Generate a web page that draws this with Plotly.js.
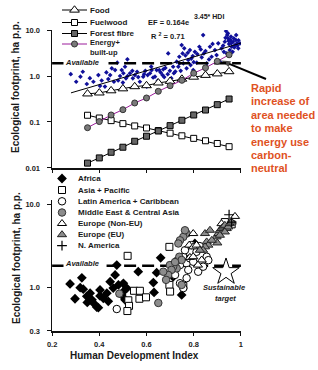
<!DOCTYPE html>
<html><head><meta charset="utf-8">
<script src="https://cdn.plot.ly/plotly-3.0.1.min.js"></script>
<style>html,body{margin:0;padding:0;background:#fff;}#chart{width:318px;height:370px;}</style>
</head><body><div id="chart"></div>
<script>
const FONT = 'Liberation Sans, Arial, sans-serif';

// ---------- Top panel data ----------
const hdiSteps = [0.35,0.40,0.45,0.50,0.55,0.60,0.65,0.70,0.75,0.80,0.85,0.90,0.95];
const food = [0.41,0.43,0.48,0.53,0.59,0.62,0.71,0.77,0.86,0.95,1.04,1.12,1.25];
const fuelwood = [0.14,0.122,0.107,0.092,0.082,0.074,0.065,0.057,0.050,0.044,0.039,0.034,0.029];
const forestFibre = [0.0127,0.0165,0.0219,0.0282,0.038,0.0489,0.0637,0.0832,0.109,0.142,0.182,0.238,0.316];
const energyBuiltUp = [0.075,0.102,0.142,0.185,0.259,0.333,0.465,0.615,0.807,1.15,1.51,2.09,2.9];

const countryHDI = [0.279,0.302,0.320,0.330,0.347,0.375,0.396,0.403,0.424,0.438,0.446,0.453,0.467,0.462,0.476,0.488,0.495,0.502,0.509,0.519,0.513,0.530,0.542,0.551,0.572,0.586,0.601,0.615,0.636,0.643,0.622,0.654,0.671,0.692,0.699,0.713,0.716,0.728,0.739,0.749,0.753,0.756,0.760,0.770,0.777,0.784,0.787,0.796,0.798,0.805,0.813,0.824,0.834,0.840,0.843,0.855,0.869,0.876,0.890,0.897,0.904,0.911,0.918,0.928,0.932,0.937,0.942,0.946,0.950,0.956,0.961,0.967,0.965,0.975,0.979,0.984,0.989,0.996,0.940,0.953,0.560,0.590,0.595,0.605,0.628,0.648,0.660,0.675,0.680,0.690,0.705,0.722,0.735,0.745,0.765,0.790,0.815,0.830,0.850,0.865,0.880,0.925,0.935,0.945,0.958,0.970,0.980,0.990,0.960,0.972,0.985,0.948,0.540,0.480,0.520,0.500,0.430,0.360,0.410,0.565,0.620,0.668,0.740,0.775,0.800];
const countryEF = [1.10,0.75,0.97,1.24,0.67,0.75,1.05,0.61,0.59,0.86,1.05,1.47,1.35,0.75,1.95,1.00,1.35,1.15,1.59,2.31,0.89,1.15,0.89,1.05,0.75,0.97,0.59,1.15,0.97,1.35,1.35,1.35,1.40,3.11,1.30,1.59,1.15,2.05,2.63,4.72,3.11,1.89,4.00,1.47,2.23,3.67,1.73,2.72,1.35,3.37,1.95,4.34,2.55,7.78,3.11,1.89,4.34,2.63,3.67,2.86,5.14,2.05,4.00,3.37,5.57,9.5,7.78,6.60,4.96,6.07,4.34,5.57,3.37,4.72,6.07,5.14,4.00,5.14,3.11,3.67,1.24,1.10,1.30,1.05,0.93,0.80,1.20,0.95,1.50,1.10,0.90,1.25,1.60,1.30,2.80,2.40,3.00,3.80,3.50,2.30,5.00,4.60,6.80,8.50,7.20,6.60,7.80,6.00,5.20,4.20,4.60,5.80,1.30,0.80,1.00,0.72,1.20,0.90,0.80,0.95,1.60,1.05,1.90,3.20,2.00];
const trendHDI = [0.28, 1.0];
const trendEF = [0.43, 5.2];
const availableTop = 1.9;

// ---------- Bottom panel data ----------
const africaHDI = [0.276,0.297,0.319,0.326,0.332,0.347,0.349,0.361,0.375,0.389,0.396,0.403,0.417,0.432,0.438,0.446,0.459,0.467,0.474,0.481,0.495,0.502,0.509,0.516,0.509,0.565,0.629,0.632,0.643,0.660,0.713,0.749,0.805,0.369,0.403];
const africaEF = [1.10,0.73,0.99,1.30,0.95,0.78,0.66,0.85,0.65,0.58,0.57,0.79,0.74,0.85,0.68,1.17,0.98,1.41,1.85,1.07,0.81,1.12,0.93,0.98,0.71,1.54,1.14,0.87,1.50,2.26,1.34,0.81,3.36,0.71,0.93];
const asiaHDI = [0.520,0.547,0.572,0.570,0.598,0.523,0.526,0.519,0.697,0.700,0.756,0.697,0.932,0.961];
const asiaEF = [2.39,0.91,0.91,0.73,0.76,0.70,0.60,0.52,1.07,0.89,1.04,3.06,6.07,5.70];
const latinHDI = [0.474,0.742,0.756,0.763,0.770,0.777,0.784,0.791,0.798,0.812,0.819,0.826,0.840,0.855,0.862,0.770,0.742,0.756,0.721,0.728];
const latinEF = [0.55,1.85,2.33,2.79,1.94,1.62,2.23,3.21,2.03,2.67,1.54,3.12,1.77,2.33,2.12,1.29,1.12,0.98,1.41,2.07];
const middleEastHDI = [0.770,0.756,0.742,0.735,0.763,0.739,0.749,0.728,0.713,0.699,0.706,0.692,0.671,0.485,0.650,0.749,0.683,0.721];
const middleEastEF = [4.42,4.03,3.67,3.36,4.84,2.33,2.13,1.69,1.77,1.85,1.62,1.41,1.54,0.84,0.65,1.07,1.23,2.01];
const europeNonEuHDI = [0.798,0.781,0.798,0.812,0.784,0.798,0.834,0.818,0.918,0.975];
const europeNonEuEF = [4.42,3.21,3.06,3.21,2.29,2.33,2.13,1.85,5.81,7.10];
const europeEuHDI = [0.848,0.869,0.855,0.862,0.848,0.840,0.897,0.904,0.911,0.918,0.925,0.932,0.940,0.946,0.932,0.911,0.900,0.953,0.961,0.877,0.826];
const europeEuEF = [4.42,4.84,3.51,3.21,3.06,2.79,4.03,4.42,4.84,5.07,5.30,5.55,5.07,5.30,4.62,4.22,3.41,5.81,6.07,3.67,2.79];
const nAmericaHDI = [0.950,0.961];
const nAmericaEF = [7.43,6.07];
const targetHDI = [0.937];
const targetEF = [1.53];
const availableBottom = 1.82;

// ---------- Labels ----------
const topLegendLabels = ['Food','Fuelwood','Forest fibre','Energy+<br>built-up'];
const bottomLegendLabels = ['Africa','Asia + Pacific','Latin America + Caribbean','Middle East &amp; Central Asia','Europe (Non-EU)','Europe (EU)','N. America'];
const xTickVals = [0.2,0.4,0.6,0.8,1.0];
const xTickText = ['0.2','0.4','0.6','0.8','1'];
const topYTickVals = [0.01,0.1,1,10];
const topYTickText = ['0.01','0.1','1.0','10.0'];
const bottomYTickVals = [0.3,1,10];
const bottomYTickText = ['0.3','1.0','10.0'];
const calloutLines = ['Rapid','increase of','area needed','to make','energy use','carbon-','neutral'];

// ---------- Styles ----------
const topStyles = [
  {y: food, symbol:'triangle-up', fill:'#ffffff', size:8.5, line:'#000', mline:'#000'},
  {y: fuelwood, symbol:'square', fill:'#ffffff', size:6, line:'#000', mline:'#000'},
  {y: forestFibre, symbol:'square', fill:'#666666', size:6, line:'#000', mline:'#000'},
  {y: energyBuiltUp, symbol:'circle', fill:'#7a7a7a', size:6, line:'#9b1c9b', mline:'#333'}
];
const groupStyles = [
  {x: africaHDI, y: africaEF, symbol:'diamond', fill:'#000', size:7.5, lw:0, lc:'#000'},
  {x: asiaHDI, y: asiaEF, symbol:'square', fill:'#fff', size:7, lw:1, lc:'#000'},
  {x: latinHDI, y: latinEF, symbol:'circle', fill:'#fff', size:7.5, lw:1, lc:'#000'},
  {x: middleEastHDI, y: middleEastEF, symbol:'circle', fill:'#8c8c8c', size:7.5, lw:1, lc:'#333'},
  {x: europeNonEuHDI, y: europeNonEuEF, symbol:'triangle-up', fill:'#fff', size:8, lw:1, lc:'#000'},
  {x: europeEuHDI, y: europeEuEF, symbol:'triangle-up', fill:'#8c8c8c', size:8, lw:1, lc:'#222'},
  {x: nAmericaHDI, y: nAmericaEF, symbol:'cross-thin', fill:'#000', size:7, lw:1.2, lc:'#000'}
];

const data = [];
// top panel
data.push({type:'scatter', mode:'markers', x: countryHDI, y: countryEF, xaxis:'x', yaxis:'y',
  marker:{symbol:'diamond', size:3.6, color:'#10109a'}, hoverinfo:'skip'});
data.push({type:'scatter', mode:'lines', x: trendHDI, y: trendEF, xaxis:'x', yaxis:'y',
  line:{color:'#000', width:1}, hoverinfo:'skip'});
data.push({type:'scatter', mode:'lines', x:[xTickVals[0], xTickVals[4]], y:[availableTop, availableTop], xaxis:'x', yaxis:'y',
  line:{color:'#000', width:2.5, dash:'12px,6px'}, hoverinfo:'skip'});
topStyles.forEach(s => data.push({type:'scatter', mode:'lines+markers', x: hdiSteps, y: s.y, xaxis:'x', yaxis:'y',
  line:{color:s.line, width:1}, marker:{symbol:s.symbol, size:s.size, color:s.fill, line:{color:s.mline, width:1}}, hoverinfo:'skip'}));

// bottom panel
data.push({type:'scatter', mode:'lines', x:[xTickVals[0], xTickVals[4]], y:[availableBottom, availableBottom], xaxis:'x2', yaxis:'y2',
  line:{color:'#000', width:2.5, dash:'12px,6px'}, hoverinfo:'skip'});
groupStyles.forEach(s => data.push({type:'scatter', mode:'markers', x: s.x, y: s.y, xaxis:'x2', yaxis:'y2',
  marker:{symbol:s.symbol, size:s.size, color:s.fill, line:{color:s.lc, width:s.lw}}, hoverinfo:'skip'}));
data.push({type:'scatter', mode:'markers', x: targetHDI, y: targetEF, xaxis:'x2', yaxis:'y2',
  marker:{symbol:'star', size:20, color:'#fff', line:{color:'#000', width:1}}, hoverinfo:'skip'});

// ---------- overlay (pixel space) for legends and callout arrow ----------
const topLegRows = [10, 22.5, 33.5, 44];
const topLegTextRows = [10, 22.5, 33.5, 47];
topStyles.forEach((s, i) => {
  data.push({type:'scatter', mode:'lines', x:[62, 87], y:[topLegRows[i], topLegRows[i]], xaxis:'x3', yaxis:'y3',
    line:{color:s.line, width:1}, hoverinfo:'skip'});
  data.push({type:'scatter', mode:'markers', x:[74.5], y:[topLegRows[i]], xaxis:'x3', yaxis:'y3',
    marker:{symbol:s.symbol, size:s.size, color:s.fill, line:{color:s.mline, width:1}}, hoverinfo:'skip'});
});
const botLegRows = [178.5, 190, 201.3, 212.5, 223.5, 234.7, 245.7];
groupStyles.forEach((s, i) => {
  data.push({type:'scatter', mode:'markers', x:[62], y:[botLegRows[i]], xaxis:'x3', yaxis:'y3',
    marker:{symbol:s.symbol, size:s.size, color:s.fill, line:{color:s.lc, width:s.lw}}, hoverinfo:'skip'});
});
// callout arrow (tail -> head)
data.push({type:'scatter', mode:'lines+markers', x:[266, 221], y:[79, 60.5], xaxis:'x3', yaxis:'y3',
  line:{color:'#000', width:2}, marker:{symbol:'arrow', angleref:'previous', size:[0, 10], color:'#000', line:{width:0}},
  hoverinfo:'skip'});

const ann = [];
function txt(x, y, text, size, opts) {
  ann.push(Object.assign({x:x, y:y, xref:'x3', yref:'y3', text:text, showarrow:false, xanchor:'left', yanchor:'middle',
    align:'left', font:{family:FONT, size:size, color:'#1a1a1a'}}, opts || {}));
}
topLegendLabels.forEach((t, i) => txt(88, topLegTextRows[i], '<b>' + t.replace('<br>', '</b><br><b>') + '</b>', i === 3 ? 7.5 : 8));
bottomLegendLabels.forEach((t, i) => txt(76, botLegRows[i], '<b>' + t + '</b>', 8));

txt(146, 22.5, '<b>EF = 0.164e</b>', 7.5);
txt(192, 16, '<b>3.45* HDI</b>', 7);
txt(149, 35.5, '<b>R <sup>2</sup> = 0.71</b>', 7.5);

txt(86, 62, '<b><i>Available</i></b>', 7.5, {xanchor:'center', bgcolor:'#fff', width:42});
txt(85, 263, '<b><i>Available</i></b>', 7.5, {xanchor:'center', bgcolor:'#fff', width:40});
txt(223.5, 287.3, '<b><i>Sustainable</i></b>', 7.5, {xanchor:'center'});
txt(225, 298.3, '<b><i>target</i></b>', 7.5, {xanchor:'center'});

calloutLines.forEach((t, i) => txt(249, 88 + i * 13.4, '<b>' + t + '</b>', 11, {font:{family:FONT, size:11, color:'#e0521f'}}));

txt(15, 87, '<b>Ecological footprint, ha p.p.</b>', 10, {xanchor:'center', textangle:-90});
txt(16, 258, '<b>Ecological footprint, ha p.p.</b>', 10, {xanchor:'center', textangle:-90});
txt(134, 355, '<b>Human Development Index</b>', 10, {xanchor:'center'});

const tickFont = {family:FONT, size:7.5, color:'#222'};
const axBase = {showgrid:false, zeroline:false, showline:true, linecolor:'#111', linewidth:1.5,
  ticks:'outside', ticklen:3, tickcolor:'#111', tickwidth:1, tickfont:tickFont, fixedrange:true};
const bold = a => a.map(t => '<b>' + t + '</b>');

const layout = {
  width:318, height:370, margin:{l:0, r:0, t:0, b:0, pad:0},
  paper_bgcolor:'#fff', plot_bgcolor:'rgba(0,0,0,0)', showlegend:false,
  font:{family:FONT},
  xaxis: Object.assign({}, axBase, {domain:[52/318, 241/318], range:[0.1995, 1.0005], anchor:'y',
    tickmode:'array', tickvals:xTickVals, ticktext:bold(xTickText), showticklabels:false}),
  yaxis: Object.assign({}, axBase, {type:'log', domain:[1-168/370, 1-30/370], range:[-2.002, 1.002], anchor:'x',
    tickmode:'array', tickvals:topYTickVals, ticktext:bold(topYTickText), ticklen:4, ticklabelstandoff:5}),
  xaxis2: Object.assign({}, axBase, {domain:[52/318, 241/318], range:[0.1995, 1.0005], anchor:'y2',
    tickmode:'array', tickvals:xTickVals, ticktext:bold(xTickText), ticklabelstandoff:2}),
  yaxis2: Object.assign({}, axBase, {type:'log', domain:[1-331/370, 1-200/370], range:[-0.5235, 1.048], anchor:'x2',
    tickmode:'array', tickvals:bottomYTickVals, ticktext:bold(bottomYTickText), ticklen:4, ticklabelstandoff:5}),
  xaxis3: {domain:[0,1], range:[0,318], anchor:'y3', visible:false, fixedrange:true, showgrid:false, zeroline:false},
  yaxis3: {domain:[0,1], range:[370,0], anchor:'x3', visible:false, fixedrange:true, showgrid:false, zeroline:false},
  annotations: ann
};

Plotly.newPlot('chart', data, layout, {staticPlot:true, displayModeBar:false});
</script>
</body></html>
